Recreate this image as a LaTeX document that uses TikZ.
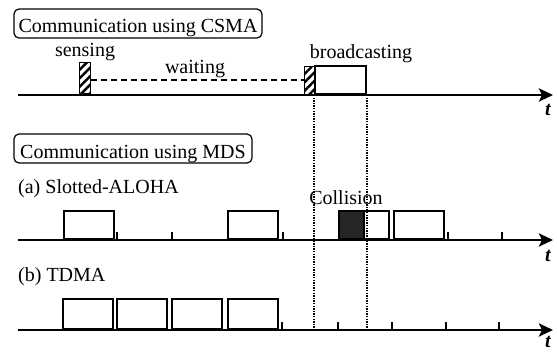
\documentclass[tikz,border=0pt]{standalone}
\usepackage{fontspec}
\setmainfont{Liberation Serif}
\usetikzlibrary{arrows.meta,patterns.meta}
\begin{document}
\begin{tikzpicture}[x=1pt,y=-1pt,
  fnt/.style={font=\fontsize{20}{24}\selectfont},
  lbl/.style={fnt,draw,rounded corners=5pt,line width=1.2pt,inner xsep=0pt,inner ysep=0pt,text height=24pt,text depth=5pt,anchor=base},
  txt/.style={fnt,inner sep=0pt,anchor=base},
  axis/.style={line width=2.8pt,-{Stealth[length=14pt,width=13pt,inset=3pt]}},
  pkt/.style={draw,line width=1.6pt,anchor=south west,minimum height=28pt,inner sep=0pt},
  hatch/.style={draw,line width=1.3pt,pattern={Lines[angle=45,distance=6pt,line width=2.4pt]},anchor=south west,inner sep=0pt},
  tck/.style={line width=2pt},
  tlab/.style={font=\fontsize{20}{24}\selectfont\bfseries\itshape,inner sep=0pt},
  vdot/.style={line width=1.8pt,dash pattern=on 1.3pt off 1.3pt},
  dsh/.style={line width=1.6pt,dash pattern=on 6pt off 4pt}
]
\useasboundingbox (0,0) rectangle (557,353);

% ---------- CSMA ----------
\node[lbl,minimum width=248pt] (csma) at (138,33) {Communication using CSMA};
\coordinate (a1s) at (18,95);
\coordinate (a1e) at (553,95);
\node[hatch,minimum width=11pt,minimum height=31pt] (sense) at (78,95) {};
\node[txt] (sensetxt) at (85,57) {sensing};
\node[hatch,minimum width=10pt,minimum height=28pt] (sense2) at (304,95) {};
\node[pkt,minimum width=51pt] (bc) at (314,95) {};
\node[txt] (bctxt) at (361,59) {broadcasting};
\coordinate (w1) at (sense.east |- 0,80);
\coordinate (w2) at (sense2.west |- 0,80);
\draw[dsh] (w1) -- (w2);
\node[txt] (waittxt) at (195,74) {waiting};
\draw[axis] (a1s) -- (a1e);
\node[tlab] (t1) at (548,110) {t};

% ---------- MDS ----------
\node[lbl,minimum width=238pt] (mds) at (133,158) {Communication using MDS};
\node[txt,anchor=base west] (aloha) at (18,193) {(a) Slotted-ALOHA};
\coordinate (a2s) at (18,240);
\coordinate (a2e) at (553,240);
\node[pkt,minimum width=50pt] (s1) at (63,240) {};
\node[pkt,minimum width=50pt] (s2) at (227,240) {};
\node[pkt,minimum width=25pt,fill=black!85] (c1) at (338,240) {};
\node[pkt,minimum width=25pt] (c2) at (363,240) {};
\node[pkt,minimum width=50pt] (s3) at (393,240) {};
\foreach \x [count=\i] in {117,172,283,448,502}{
  \coordinate (ta\i) at (\x,240);
  \draw[tck] (ta\i) -- ++(0,-8);
}
\node[txt] (coll) at (346,204) {Collision};
\draw[axis] (a2s) -- (a2e);
\node[tlab] (t2) at (548,256) {t};

\node[txt,anchor=base west] (tdma) at (18,281) {(b) TDMA};
\coordinate (a3s) at (18,330);
\coordinate (a3e) at (553,330);
\node[pkt,minimum width=50pt,minimum height=30pt] (d1) at (62,330) {};
\node[pkt,minimum width=50pt,minimum height=30pt] (d2) at (116,330) {};
\node[pkt,minimum width=50pt,minimum height=30pt] (d3) at (171,330) {};
\node[pkt,minimum width=50pt,minimum height=30pt] (d4) at (227,330) {};
\foreach \x [count=\i] in {282,338,392,446,499}{
  \coordinate (tb\i) at (\x,330);
  \draw[tck] (tb\i) -- ++(0,-8);
}
\draw[axis] (a3s) -- (a3e);
\node[tlab] (t3) at (548,342) {t};

% ---------- dotted guides ----------
\coordinate (g1) at (bc.south west);
\coordinate (g2) at (bc.south east);
\draw[vdot] (g1) -- (g1 |- a3s);
\draw[vdot] (g2) -- (g2 |- a3s);
\end{tikzpicture}
\end{document}
